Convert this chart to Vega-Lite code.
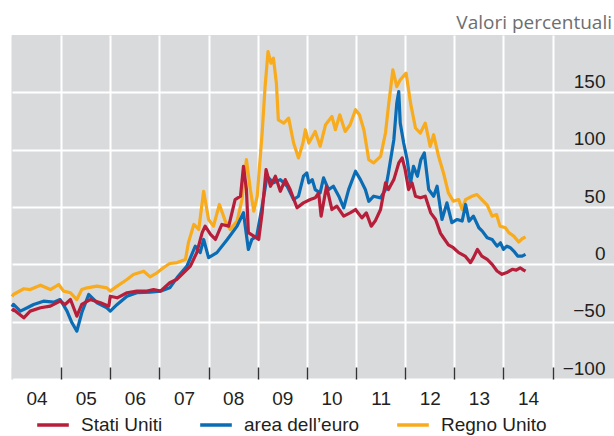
{
  "$schema": "https://vega.github.io/schema/vega-lite/v6.json",
  "width": 602,
  "height": 344,
  "autosize": {"type": "none"},
  "padding": {"left": 12, "top": 35, "right": 0, "bottom": 57},
  "background": "white",
  "view": {"fill": "#d9dadc", "stroke": null},
  "title": {"text": "Valori percentuali", "anchor": "end", "font": "Open Sans", "fontSize": 19, "fontWeight": "normal", "color": "#6d6e70", "offset": -13, "dx": -2, "baseline": "alphabetic"},
  "datasets": {
    "uk": [
      {"t":2004.0,"v":-28},{"t":2004.03,"v":-26.3},{"t":2004.24,"v":-21.3},{"t":2004.37,"v":-22},{"t":2004.58,"v":-18.2},{"t":2004.78,"v":-22},{"t":2004.95,"v":-17.6},{"t":2005.05,"v":-23.4},{"t":2005.19,"v":-24.8},{"t":2005.32,"v":-30.7},{"t":2005.42,"v":-22},{"t":2005.53,"v":-20.5},{"t":2005.73,"v":-19},{"t":2005.93,"v":-20.5},{"t":2006.0,"v":-23.4},{"t":2006.14,"v":-19},{"t":2006.34,"v":-13.2},{"t":2006.47,"v":-8.9},{"t":2006.68,"v":-6},{"t":2006.81,"v":-10.9},{"t":2006.95,"v":-7.4},{"t":2007.08,"v":-3},{"t":2007.21,"v":0.7},{"t":2007.36,"v":1.5},{"t":2007.53,"v":4.3},{"t":2007.59,"v":18.9},{"t":2007.7,"v":34.8},{"t":2007.8,"v":30.4},{"t":2007.9,"v":63.7},{"t":2008.0,"v":39.1},{"t":2008.1,"v":33.3},{"t":2008.22,"v":52.2},{"t":2008.34,"v":37.7},{"t":2008.44,"v":30.4},{"t":2008.58,"v":37.7},{"t":2008.68,"v":56.5},{"t":2008.77,"v":91.3},{"t":2008.85,"v":65.2},{"t":2008.92,"v":46.3},{"t":2008.99,"v":59.4},{"t":2009.09,"v":114.5},{"t":2009.15,"v":155},{"t":2009.21,"v":185.5},{"t":2009.27,"v":175.4},{"t":2009.32,"v":179.7},{"t":2009.38,"v":158},{"t":2009.42,"v":126},{"t":2009.53,"v":123.2},{"t":2009.63,"v":127.5},{"t":2009.73,"v":105.8},{"t":2009.83,"v":92.8},{"t":2009.92,"v":105.8},{"t":2009.97,"v":117.4},{"t":2010.04,"v":105.8},{"t":2010.17,"v":115.9},{"t":2010.27,"v":102.9},{"t":2010.38,"v":121.7},{"t":2010.51,"v":129},{"t":2010.58,"v":117.4},{"t":2010.67,"v":130.4},{"t":2010.78,"v":115.9},{"t":2010.88,"v":121.7},{"t":2010.99,"v":134.8},{"t":2011.07,"v":130.4},{"t":2011.16,"v":117.4},{"t":2011.26,"v":91.3},{"t":2011.36,"v":88.4},{"t":2011.5,"v":94.2},{"t":2011.6,"v":114.5},{"t":2011.66,"v":137.7},{"t":2011.75,"v":169.6},{"t":2011.83,"v":155},{"t":2011.9,"v":160.9},{"t":2012.02,"v":166.7},{"t":2012.11,"v":140.6},{"t":2012.21,"v":118.9},{"t":2012.31,"v":114.5},{"t":2012.41,"v":123.2},{"t":2012.51,"v":102.9},{"t":2012.58,"v":113},{"t":2012.68,"v":94.2},{"t":2012.78,"v":79.7},{"t":2012.88,"v":62.3},{"t":2012.98,"v":55},{"t":2013.09,"v":56.5},{"t":2013.16,"v":47.8},{"t":2013.23,"v":56.5},{"t":2013.36,"v":59.4},{"t":2013.46,"v":60.9},{"t":2013.56,"v":56.5},{"t":2013.67,"v":51.6},{"t":2013.77,"v":42},{"t":2013.86,"v":43.4},{"t":2013.93,"v":33.3},{"t":2014.04,"v":31.9},{"t":2014.11,"v":27.6},{"t":2014.21,"v":24.6},{"t":2014.31,"v":19.4},{"t":2014.38,"v":22.3},{"t":2014.45,"v":24}
    ],
    "ea": [
      {"t":2004.0,"v":-37},{"t":2004.03,"v":-35},{"t":2004.17,"v":-40.8},{"t":2004.31,"v":-37.9},{"t":2004.44,"v":-35},{"t":2004.64,"v":-32.1},{"t":2004.85,"v":-33},{"t":2004.98,"v":-30.7},{"t":2005.12,"v":-40.8},{"t":2005.22,"v":-51},{"t":2005.32,"v":-58.3},{"t":2005.42,"v":-42.2},{"t":2005.56,"v":-26.3},{"t":2005.73,"v":-33.5},{"t":2005.93,"v":-37.9},{"t":2006.0,"v":-40.8},{"t":2006.14,"v":-35},{"t":2006.34,"v":-27.8},{"t":2006.54,"v":-24.8},{"t":2006.81,"v":-24.3},{"t":2007.02,"v":-23.4},{"t":2007.21,"v":-20.5},{"t":2007.36,"v":-11.6},{"t":2007.56,"v":-1.5},{"t":2007.73,"v":15.9},{"t":2007.83,"v":10.2},{"t":2007.9,"v":21.7},{"t":2008.0,"v":5.8},{"t":2008.17,"v":10.2},{"t":2008.38,"v":21.7},{"t":2008.58,"v":33.3},{"t":2008.71,"v":45},{"t":2008.81,"v":13},{"t":2008.88,"v":21.7},{"t":2008.98,"v":24.6},{"t":2009.09,"v":50.7},{"t":2009.19,"v":76.8},{"t":2009.32,"v":71},{"t":2009.46,"v":73.9},{"t":2009.6,"v":68.1},{"t":2009.73,"v":56.5},{"t":2009.83,"v":59.4},{"t":2009.93,"v":76.8},{"t":2010.0,"v":79.7},{"t":2010.04,"v":71},{"t":2010.11,"v":73.9},{"t":2010.17,"v":65.2},{"t":2010.27,"v":62.3},{"t":2010.34,"v":75.4},{"t":2010.44,"v":65.2},{"t":2010.54,"v":68.1},{"t":2010.65,"v":59.4},{"t":2010.75,"v":49.3},{"t":2010.85,"v":65.2},{"t":2010.99,"v":81.2},{"t":2011.09,"v":73.9},{"t":2011.19,"v":65.2},{"t":2011.26,"v":55},{"t":2011.36,"v":59.4},{"t":2011.5,"v":58},{"t":2011.6,"v":65.2},{"t":2011.66,"v":79.7},{"t":2011.77,"v":108.7},{"t":2011.83,"v":140.6},{"t":2011.87,"v":150.7},{"t":2011.9,"v":123.2},{"t":2011.97,"v":105.8},{"t":2012.04,"v":91.3},{"t":2012.11,"v":71},{"t":2012.17,"v":85.5},{"t":2012.25,"v":76.8},{"t":2012.32,"v":91.3},{"t":2012.39,"v":97.1},{"t":2012.48,"v":65.2},{"t":2012.58,"v":59.4},{"t":2012.65,"v":68.1},{"t":2012.75,"v":39.1},{"t":2012.85,"v":53.6},{"t":2012.95,"v":36.3},{"t":2013.06,"v":39.1},{"t":2013.16,"v":37.7},{"t":2013.23,"v":52.2},{"t":2013.3,"v":37.7},{"t":2013.39,"v":42},{"t":2013.5,"v":31.9},{"t":2013.57,"v":29},{"t":2013.67,"v":23.2},{"t":2013.77,"v":21.7},{"t":2013.87,"v":15.9},{"t":2013.94,"v":18.8},{"t":2014.0,"v":13},{"t":2014.07,"v":15.9},{"t":2014.14,"v":14.5},{"t":2014.21,"v":11.6},{"t":2014.29,"v":7.2},{"t":2014.38,"v":7.2},{"t":2014.45,"v":8.7}
    ],
    "us": [
      {"t":2004.0,"v":-41},{"t":2004.03,"v":-39.4},{"t":2004.24,"v":-46.6},{"t":2004.37,"v":-40.8},{"t":2004.58,"v":-37.9},{"t":2004.78,"v":-36.5},{"t":2004.98,"v":-32.1},{"t":2005.08,"v":-35},{"t":2005.19,"v":-30.7},{"t":2005.32,"v":-45.2},{"t":2005.42,"v":-35},{"t":2005.59,"v":-30.7},{"t":2005.8,"v":-33.5},{"t":2005.97,"v":-36.5},{"t":2006.0,"v":-27.8},{"t":2006.14,"v":-29.2},{"t":2006.34,"v":-24.8},{"t":2006.54,"v":-23.4},{"t":2006.75,"v":-23.4},{"t":2006.88,"v":-22},{"t":2007.02,"v":-23.4},{"t":2007.21,"v":-16.1},{"t":2007.36,"v":-13},{"t":2007.63,"v":-1.5},{"t":2007.76,"v":10.2},{"t":2007.87,"v":27.6},{"t":2007.93,"v":33.3},{"t":2008.04,"v":26.1},{"t":2008.14,"v":21.7},{"t":2008.27,"v":34.8},{"t":2008.41,"v":33.3},{"t":2008.54,"v":56.5},{"t":2008.65,"v":59.4},{"t":2008.71,"v":85.5},{"t":2008.77,"v":65.2},{"t":2008.81,"v":27.6},{"t":2008.92,"v":24.6},{"t":2009.02,"v":21.7},{"t":2009.09,"v":45},{"t":2009.17,"v":82.6},{"t":2009.26,"v":68.1},{"t":2009.36,"v":76.8},{"t":2009.46,"v":63.7},{"t":2009.56,"v":73.9},{"t":2009.66,"v":65.2},{"t":2009.8,"v":49.3},{"t":2009.93,"v":53.6},{"t":2010.07,"v":56.5},{"t":2010.17,"v":58},{"t":2010.24,"v":62.3},{"t":2010.29,"v":42},{"t":2010.4,"v":68.1},{"t":2010.51,"v":47.8},{"t":2010.61,"v":50.7},{"t":2010.75,"v":42},{"t":2010.88,"v":44.9},{"t":2010.99,"v":47.8},{"t":2011.12,"v":40.5},{"t":2011.21,"v":44.9},{"t":2011.31,"v":33.3},{"t":2011.39,"v":37.7},{"t":2011.5,"v":47.8},{"t":2011.6,"v":71},{"t":2011.66,"v":65.2},{"t":2011.77,"v":73.9},{"t":2011.87,"v":88.4},{"t":2011.94,"v":92.8},{"t":2012.0,"v":82.6},{"t":2012.07,"v":65.2},{"t":2012.14,"v":71},{"t":2012.21,"v":59.4},{"t":2012.31,"v":58},{"t":2012.41,"v":59.4},{"t":2012.52,"v":44.9},{"t":2012.62,"v":39.1},{"t":2012.72,"v":27},{"t":2012.78,"v":23.2},{"t":2012.88,"v":17},{"t":2012.98,"v":14.5},{"t":2013.09,"v":10.2},{"t":2013.22,"v":7.2},{"t":2013.33,"v":1.5},{"t":2013.39,"v":5.8},{"t":2013.47,"v":13},{"t":2013.56,"v":7.2},{"t":2013.67,"v":4.3},{"t":2013.77,"v":0},{"t":2013.87,"v":-5.8},{"t":2013.97,"v":-8.7},{"t":2014.07,"v":-7.2},{"t":2014.18,"v":-4.3},{"t":2014.26,"v":-5},{"t":2014.34,"v":-3},{"t":2014.41,"v":-5},{"t":2014.45,"v":-6}
    ]
  },
  "layer": [
    {
      "mark": {"type": "rule", "color": "#616161", "strokeWidth": 2},
      "encoding": {
        "y": {
          "datum": 0,
          "type": "quantitative",
          "scale": {"domain": [-100, 200], "nice": false, "zero": false},
          "axis": {
            "orient": "right", "values": [-100, -50, 0, 50, 100, 150], "title": null,
            "grid": true, "gridColor": "white", "gridWidth": 2, "gridOpacity": 1,
            "ticks": false, "domain": false,
            "labelAlign": "right", "labelPadding": -9, "labelBaseline": "alphabetic", "labelOffset": -5,
            "labelFont": "Liberation Sans", "labelFontSize": 19, "labelColor": "#231f20",
            "labelOverlap": false, "labelBound": false,
            "labelExpr": "replace(format(datum.value, 'd'), '-', '\u2212')"
          }
        }
      }
    },
    {
      "data": {"name": "uk"},
      "mark": {"type": "line", "strokeWidth": 3.2, "strokeJoin": "round"},
      "encoding": {
        "x": {
          "field": "t", "type": "quantitative",
          "scale": {"domain": [2004, 2016.25], "nice": false, "zero": false},
          "axis": {
            "orient": "bottom", "values": [2004,2005,2006,2007,2008,2009,2010,2011,2012,2013,2014,2015], "title": null,
            "grid": true, "gridWidth": 2, "gridOpacity": 1,
            "gridColor": {"condition": {"test": "datum.value === 2004", "value": "#d9dadc"}, "value": "white"},
            "ticks": true, "tickSize": -12, "tickWidth": 1.5,
            "tickColor": {"condition": {"test": "datum.value === 2004", "value": "#d9dadc"}, "value": "#333333"},
            "domain": false,
            "labelExpr": "datum.value >= 2015 ? '' : slice(toString(datum.value), 2)",
            "labelOffset": 24.6, "labelPadding": 22,
            "labelFont": "Liberation Sans", "labelFontSize": 19, "labelColor": "#231f20",
            "labelOverlap": false, "labelBound": false, "labelFlush": false
          }
        },
        "y": {"field": "v", "type": "quantitative"},
        "color": {
          "datum": "Regno Unito",
          "scale": {"domain": ["Stati Uniti", "area dell\u2019euro", "Regno Unito"], "range": ["#b71e3a", "#0a6cb4", "#f8ab1c"]},
          "legend": {
            "orient": "none", "legendX": 23, "legendY": 372, "direction": "horizontal", "title": null,
            "symbolType": "stroke", "symbolSize": 1000, "symbolStrokeWidth": 3.5,
            "labelFont": "Liberation Sans", "labelFontSize": 19, "labelColor": "#231f20",
            "labelOffset": 10, "columnPadding": 30, "padding": 0
          }
        }
      }
    },
    {
      "data": {"name": "ea"},
      "mark": {"type": "line", "strokeWidth": 3.2, "strokeJoin": "round"},
      "encoding": {
        "x": {"field": "t", "type": "quantitative"},
        "y": {"field": "v", "type": "quantitative"},
        "color": {"datum": "area dell\u2019euro"}
      }
    },
    {
      "data": {"name": "us"},
      "mark": {"type": "line", "strokeWidth": 3.2, "strokeJoin": "round"},
      "encoding": {
        "x": {"field": "t", "type": "quantitative"},
        "y": {"field": "v", "type": "quantitative"},
        "color": {"datum": "Stati Uniti"}
      }
    }
  ]
}
